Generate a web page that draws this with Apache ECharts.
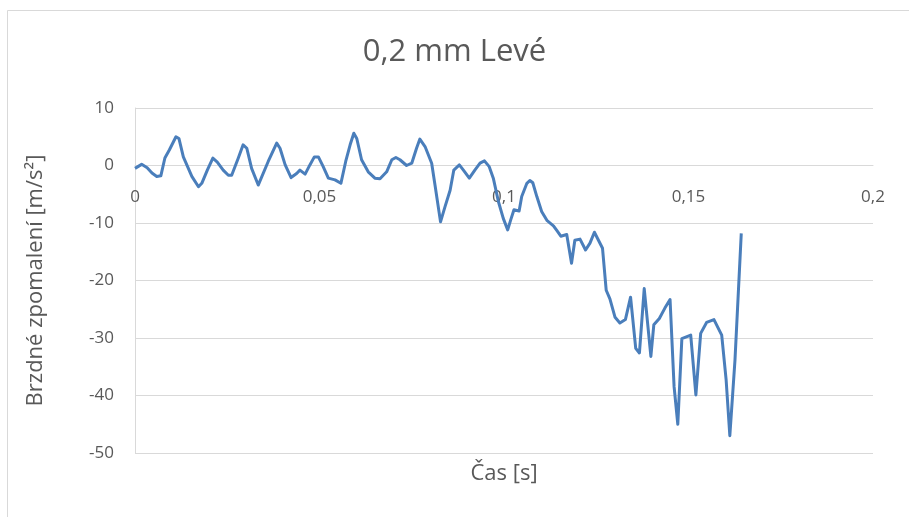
<!DOCTYPE html>
<html>
<head>
<meta charset="utf-8">
<script src="https://cdn.jsdelivr.net/npm/echarts@6/dist/echarts.min.js"></script>
<style>
html,body{margin:0;padding:0;background:#fff;}
#chart{width:909px;height:517px;}
</style>
</head>
<body>
<div id="chart"></div>
<script>
var titleText = "0,2 mm Levé";
var xAxisName = "Čas [s]";
var yAxisName = "Brzdné zpomalení [m/s²]";
var time = [0.0000,0.0018,0.0033,0.0046,0.0059,0.0070,0.0081,0.0093,0.0111,0.0119,0.0131,0.0154,0.0172,0.0181,0.0196,0.0211,0.0223,0.0239,0.0253,0.0262,0.0280,0.0293,0.0303,0.0316,0.0334,0.0339,0.0361,0.0384,0.0393,0.0407,0.0423,0.0438,0.0447,0.0461,0.0474,0.0486,0.0497,0.0510,0.0524,0.0542,0.0558,0.0571,0.0583,0.0593,0.0601,0.0614,0.0632,0.0650,0.0664,0.0682,0.0696,0.0707,0.0718,0.0736,0.0750,0.0763,0.0772,0.0786,0.0804,0.0813,0.0828,0.0840,0.0854,0.0864,0.0879,0.0890,0.0906,0.0921,0.0935,0.0947,0.0960,0.0971,0.0985,0.0998,0.1010,0.1018,0.1027,0.1041,0.1048,0.1062,0.1070,0.1078,0.1089,0.1102,0.1117,0.1134,0.1143,0.1154,0.1170,0.1183,0.1192,0.1206,0.1221,0.1233,0.1245,0.1256,0.1267,0.1277,0.1287,0.1301,0.1314,0.1329,0.1343,0.1357,0.1367,0.1380,0.1398,0.1406,0.1421,0.1436,0.1450,0.1461,0.1471,0.1482,0.1506,0.1520,0.1533,0.1549,0.1569,0.1590,0.1602,0.1612,0.1626,0.1643];
var accel = [-0.5,0.2,-0.4,-1.3,-1.9,-1.8,1.3,2.7,5.0,4.7,1.5,-1.9,-3.7,-3.1,-0.8,1.3,0.6,-0.8,-1.7,-1.7,1.3,3.6,3.0,-0.5,-3.4,-3.7,0.7,3.9,3.0,0.1,-2.1,-1.4,-0.8,-1.5,0.1,1.5,1.5,-0.2,-2.2,-2.5,-3.1,0.7,3.6,5.6,4.7,1.0,-1.1,-2.2,-2.3,-1.1,1.0,1.4,1.0,0.0,0.4,3.0,4.6,3.3,0.4,-3.4,-9.8,-7.2,-4.3,-0.8,0.1,-0.8,-2.2,-0.8,0.4,0.8,-0.2,-2.2,-6.3,-9.2,-11.2,-9.5,-7.7,-7.9,-5.4,-3.1,-2.6,-3.0,-5.4,-8.0,-9.6,-10.5,-11.3,-12.3,-12.0,-17.0,-13.0,-12.8,-14.7,-13.5,-11.6,-13.0,-14.4,-21.7,-23.2,-26.4,-27.4,-26.8,-22.9,-31.8,-32.6,-21.4,-33.2,-27.7,-26.6,-24.8,-23.3,-38.5,-45.0,-30.1,-29.5,-39.9,-29.2,-27.3,-26.8,-29.5,-37.3,-47.0,-33.8,-11.8];
var xTicks = {min: 0, max: 0.2, interval: 0.05};
var yTicks = {min: -50, max: 10, interval: 10};

var data = time.map(function(t, i){ return [t, accel[i]]; });
var chart = echarts.init(document.getElementById('chart'));
var font = '"Open Sans", "Liberation Sans", sans-serif';
var gridTop = 108, gridBottom = 64, H = 517;
// place the x axis at y = 0 of the value axis
var plotH = H - gridTop - gridBottom;
var zeroOffset = -plotH * (0 - yTicks.min) / (yTicks.max - yTicks.min);
chart.setOption({
  animation: false,
  backgroundColor: '#ffffff',
  graphic: [{
    type: 'rect', left: 5, top: 8,
    shape: {width: 920, height: 530},
    style: {fill: 'none', stroke: '#d9d9d9', lineWidth: 1},
    silent: true
  }],
  title: {
    text: titleText, left: 'center', top: 32,
    textStyle: {fontFamily: font, fontSize: 31, fontWeight: 'normal', color: '#595959'}
  },
  grid: {left: 135, right: 36, top: gridTop, bottom: gridBottom, containLabel: false, outerBoundsMode: 'none'},
  xAxis: {
    type: 'value', min: xTicks.min, max: xTicks.max, interval: xTicks.interval,
    position: 'bottom', offset: zeroOffset,
    name: xAxisName, nameLocation: 'middle', nameGap: 297,
    nameTextStyle: {fontFamily: font, fontSize: 22, color: '#595959'},
    axisLine: {show: true, onZero: false, lineStyle: {color: '#d9d9d9'}},
    axisTick: {show: false},
    splitLine: {show: false},
    axisLabel: {
      fontFamily: font, fontSize: 17, color: '#595959', margin: 23,
      formatter: function(v){ return String(Math.round(v*100)/100).replace('.', ','); }
    }
  },
  yAxis: {
    type: 'value', min: yTicks.min, max: yTicks.max, interval: yTicks.interval,
    name: yAxisName, nameLocation: 'middle', nameGap: 88, nameRotate: 90,
    nameTextStyle: {fontFamily: font, fontSize: 22, color: '#595959'},
    axisLine: {show: true, lineStyle: {color: '#d9d9d9'}},
    axisTick: {show: false},
    splitLine: {show: true, lineStyle: {color: '#d9d9d9', width: 1}},
    axisLabel: {fontFamily: font, fontSize: 17, color: '#595959', margin: 21}
  },
  series: [{
    type: 'line', data: data, showSymbol: false, symbol: 'none',
    lineStyle: {color: '#4a7ebb', width: 3, join: 'round'},
    clip: false
  }]
});
</script>
</body>
</html>
